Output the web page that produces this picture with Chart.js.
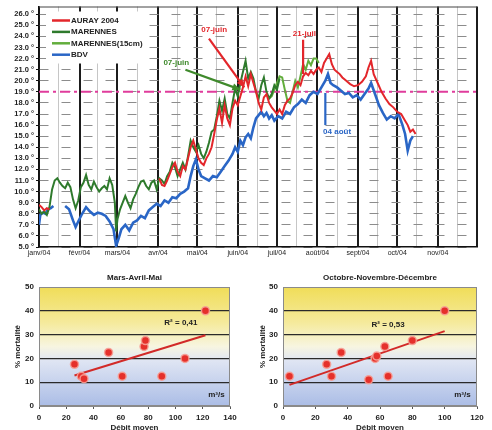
<!DOCTYPE html>
<html>
<head>
<meta charset="utf-8">
<script src="https://cdn.jsdelivr.net/npm/chart.js@4.4.0/dist/chart.umd.min.js"></script>
<style>
  body { margin: 0; background: #fff; width: 492px; height: 430px; overflow: hidden; position: relative; }
  canvas { position: absolute; }
  #tempChart { left: 0; top: 0; }
  #springChart { left: 0; top: 265px; }
  #autumnChart { left: 245px; top: 265px; }
</style>
</head>
<body>
<canvas id="tempChart" width="492" height="262"></canvas>
<canvas id="springChart" width="245" height="165"></canvas>
<canvas id="autumnChart" width="247" height="165"></canvas>
<script>
Chart.defaults.font.family = '"Liberation Sans", Arial, sans-serif';
Chart.defaults.color = '#222';
Chart.defaults.animation = false;

// day of year 2004 (0 = 1 janv)
const monthStarts = [0, 31, 60, 91, 121, 152, 182, 213, 244, 274, 305, 335];
const monthLabels = ['janv/04', 'févr/04', 'mars/04', 'avr/04', 'mai/04', 'juin/04', 'juil/04', 'août/04', 'sept/04', 'oct/04', 'nov/04', ''];
const midMonths = [15, 45, 75, 106, 136, 167, 197, 228, 259, 289, 320];
const tempTicks = [5, 6, 7, 8, 9, 10, 11, 12, 13, 14, 15, 16, 17, 18, 19, 20, 21, 22, 23, 24, 25, 26];
const threshold = 19;

const seriesNames = ['AURAY 2004', 'MARENNES', 'MARENNES(15cm)', 'BDV'];
const seriesColors = ['#e3262b', '#2e7a2c', '#62ad3c', '#2a66c6'];

const aurayDays = [0, 2, 4, 6, 8, 10,
  92, 94, 96, 98, 100, 102, 104, 106, 108, 110, 112, 114, 116, 118, 120, 122, 124, 126, 128, 130,
  132, 134, 136, 138, 140, 142, 144, 146, 148, 150, 152, 154, 156, 158, 160, 162, 164, 166, 168, 170,
  172, 174, 176, 178, 180, 182, 184, 186, 188, 190, 192, 194, 196, 198, 200, 202, 204, 206, 208, 210,
  212, 214, 216, 218, 220, 222, 224, 226, 228, 230, 232, 235, 238, 241, 244, 247, 250, 252, 254, 256,
  259, 262, 265, 268, 271, 274, 277, 280, 282, 284, 286, 288];
const aurayTemp = [8.8, 8.6, 8.3, 8.5, 8.4, null,
  11.2, 10.6, 10.5, 11.0, 11.6, 12.2, 12.6, 11.8, 11.4, 12.3, 12.0, 13.0, 14.0, 14.6, 13.8, 13.0, 12.6, 12.4, 13.0, 13.4,
  14.0, 15.2, 16.5, 17.5, 16.2, 17.8, 16.6, 16.0, 17.5, 18.2, 17.8, 18.6, 19.4, 20.4, 19.5, 20.6, 19.8, 19.0, 18.0, 17.4,
  18.5, 18.8, 18.0, 17.6, 17.3, 17.0, 17.4, 17.0, 17.8, 18.2, 18.4, 18.9, 19.6, 19.9, 19.6, 20.4, 20.7, 20.5, 20.9, 20.6,
  21.0, 21.2, 20.8, 21.6, 22.0, 22.4, 21.5, 21.0, 20.8, 20.6, 20.3, 20.0, 19.7, 19.5, 19.6, 19.9, 20.4, 21.2, 21.8, 20.6,
  19.8, 19.0, 18.4, 17.9, 17.6, 17.2, 17.0, 16.4, 16.0, 15.4, 15.6, 15.2];

const marennesDays = [0, 2, 4, 6, 8, 10, 12, 14, 16, 18, 20, 22, 24, 26, 28, 30, 32, 34, 36, 38,
  40, 42, 44, 46, 48, 50, 52, 54, 56, 58, 59, 60, 62, 64, 66, 68, 70, 72, 74, 76, 78,
  80, 82, 84, 86, 88, 90, 92, 94, 96, 98, 100, 102, 104, 106, 108, 110, 112, 114, 116, 118,
  120, 122, 124, 126, 128, 130, 132, 134, 136, 138, 140, 142, 144, 146, 148, 150, 152, 154, 156, 158,
  160, 162, 164, 166, 168, 170, 172, 174, 176, 178, 180, 182, 184];
const marennesTemp = [8.4, 8.0, 8.2, 7.9, 8.6, 10.2, 11.0, 11.2, 10.8, 10.5, 10.3, 10.8, 10.4, 9.3, 8.5, 9.2, 10.4, 10.8, 11.5, 10.6,
  10.2, 10.9, 10.4, 10.0, 10.3, 10.5, 10.2, 11.2, 10.6, 9.0, 6.4, 7.5, 8.4, 9.0, 9.6, 9.0, 8.5, 9.3, 9.8, 10.4, 10.9,
  11.0, 10.5, 10.2, 10.8, 11.0, 10.2, 11.2, 11.0, 10.7, 11.4, 11.8, 12.6, 12.2, 11.4, 12.0, 12.6, 12.0, 13.2, 14.6, 14.0,
  13.6, 14.2, 13.4, 13.0, 13.6, 14.4, 15.4, 15.6, 16.8, 18.2, 17.3, 18.4, 17.0, 16.6, 18.0, 19.3, 18.6, 19.8, 20.8, 21.8,
  20.2, 20.8, 20.2, 19.0, 18.4, 19.6, 20.3, 19.0, 18.4, 18.8, 19.6, 19.2, 20.2];

const marennes15Days = [176, 178, 180, 182, 184, 186, 188, 190, 192, 194, 196, 198, 200, 202, 204, 206, 208, 210, 212, 214];
const marennes15Temp = [18.4, 18.6, 19.2, 19.8, 20.4, 20.3, 19.2, 18.2, 18.0, 19.0, 20.0, 19.4, 20.4, 21.5, 21.0, 21.8, 21.4, 22.0, 22.0, 21.6];

const bdvDays = [0, 1, 3, 5, 7, 9, 11, 15,
  20, 23, 26, 28, 30, 33, 36, 39, 42, 45, 48, 51, 54, 57,
  59, 61, 63, 66, 69, 72, 75, 78, 81, 84, 87, 90, 93, 96, 99, 102, 105, 108, 111, 114,
  116, 118, 120, 122, 124, 127, 130, 133, 136, 139, 142, 145, 148,
  150, 152, 154, 156, 158, 160, 162, 164, 166, 168, 170, 172, 174, 176, 178, 180,
  183, 186, 189, 192, 195, 198, 201, 204, 207, 210, 213, 216, 219,
  221, 223, 225, 228, 231, 234, 237, 240, 243, 246, 249, 252, 254, 257, 260, 263, 266, 269, 272, 275, 278, 280, 282, 284, 286];
const bdvTemp = [7.0, 7.9, 8.1, 8.0, 8.4, 8.5, 8.7, null,
  8.7, 8.4, 7.4, 6.8, 7.3, 8.0, 8.6, 8.2, 7.9, 8.1, 8.0, 7.8, 7.3, 6.6,
  5.1, 5.8, 6.6, 7.0, 6.5, 7.2, 7.4, 7.8, 7.6, 8.3, 8.6, 8.9, 8.7, 9.2, 9.0, 9.5, 9.4, 9.8, 10.0, 10.3,
  11.4, 12.3, 12.9, 12.0, 11.4, 11.2, 11.0, 11.4, 11.3, 11.8, 12.3, 12.8, 13.4,
  14.0, 13.6, 14.6, 14.2, 14.9, 15.2, 14.8, 15.8, 16.6, 16.9, 17.2, 16.8, 17.1, 16.6, 16.9, 16.4,
  16.8, 16.6, 17.2, 17.0, 17.6, 17.9, 18.3, 18.0, 18.7, 19.0, 18.8, 19.4, 20.0,
  20.6, 19.8, 19.6, 19.4, 19.1, 18.8, 18.9, 18.5, 18.7, 18.3, 18.8, 19.3, 19.8, 18.8, 17.8, 17.1, 16.5, 16.8, 16.6, 17.0, 16.0, 15.2, 13.7, 14.6, 15.0];

// mortality vs mean flow
const springFlow = [26, 31, 33, 51, 61, 77, 78, 90, 107, 122];
const springMort = [17.5, 12.5, 11.5, 22.5, 12.5, 25, 27.5, 12.5, 20, 40];
const autumnFlow = [4, 27, 30, 36, 53, 57, 58, 63, 65, 80, 100];
const autumnMort = [12.5, 17.5, 12.5, 22.5, 11, 20, 21, 25, 12.5, 27.5, 40];

const FONT = '"Liberation Sans", Arial, sans-serif';

function pairUp(xs, ys) {
  return xs.map((x, i) => ({ x: x, y: ys[i] }));
}

// text + arrows, in (day, temp) units
const notes = [
  { text: '07-juin', color: '#e3262b', at: [134, 24.6], from: [130, 23.8], to: [157, 19.4], arrow: true },
  { text: '07-juin', color: '#3f8a2c', at: [105, 21.6], from: [112, 21.0], to: [154, 19.2], arrow: true },
  { text: '21-juil', color: '#e3262b', at: [203, 24.2], from: [202, 23.7], to: [202, 20.6], arrow: false },
  { text: '04 août', color: '#2a66c6', at: [228, 15.4], from: [219, 18.9], to: [219, 16.0], arrow: false }
];

const tempOverlay = {
  id: 'tempOverlay',
  beforeDatasetsDraw(chart) {
    const { ctx, chartArea: a, scales } = chart;
    ctx.save();
    // top frame
    ctx.strokeStyle = '#444';
    ctx.lineWidth = 1;
    ctx.beginPath();
    ctx.moveTo(a.left, a.top + 0.5);
    ctx.lineTo(a.right, a.top + 0.5);
    ctx.stroke();
    // 19 ° threshold
    const y = scales.y.getPixelForValue(threshold);
    ctx.strokeStyle = '#e03c9c';
    ctx.lineWidth = 2;
    ctx.setLineDash([10, 4, 3, 4]);
    ctx.beginPath();
    ctx.moveTo(a.left, y);
    ctx.lineTo(a.right, y);
    ctx.stroke();
    ctx.restore();
  },
  afterDatasetsDraw(chart) {
    const { ctx, chartArea: a, scales } = chart;
    ctx.save();
    // legend box
    const lx = a.left + 7, ly = a.top + 5;
    ctx.fillStyle = '#fff';
    ctx.fillRect(lx, ly, 101, 52);
    ctx.font = 'bold 8px ' + FONT;
    ctx.textBaseline = 'middle';
    seriesNames.forEach((name, i) => {
      const yy = ly + 9 + i * 11.4;
      ctx.strokeStyle = seriesColors[i];
      ctx.lineWidth = 2.5;
      ctx.beginPath();
      ctx.moveTo(lx + 6, yy);
      ctx.lineTo(lx + 24, yy);
      ctx.stroke();
      ctx.fillStyle = '#222';
      ctx.fillText(name, lx + 25, yy);
    });
    // annotations
    const px = v => scales.x.getPixelForValue(v);
    const py = v => scales.y.getPixelForValue(v);
    notes.forEach(n => {
      const x1 = px(n.from[0]), y1 = py(n.from[1]);
      const x2 = px(n.to[0]), y2 = py(n.to[1]);
      ctx.strokeStyle = n.color;
      ctx.fillStyle = n.color;
      ctx.lineWidth = 2.2;
      ctx.beginPath();
      ctx.moveTo(x1, y1);
      ctx.lineTo(x2, y2);
      ctx.stroke();
      if (n.arrow) {
        const ang = Math.atan2(y2 - y1, x2 - x1);
        ctx.beginPath();
        ctx.moveTo(x2, y2);
        ctx.lineTo(x2 - 8 * Math.cos(ang) + 3.5 * Math.sin(ang), y2 - 8 * Math.sin(ang) - 3.5 * Math.cos(ang));
        ctx.lineTo(x2 - 8 * Math.cos(ang) - 3.5 * Math.sin(ang), y2 - 8 * Math.sin(ang) + 3.5 * Math.cos(ang));
        ctx.closePath();
        ctx.fill();
      }
      ctx.font = 'bold 8px ' + FONT;
      ctx.textAlign = 'center';
      ctx.fillText(n.text, px(n.at[0]), py(n.at[1]));
    });
    ctx.restore();
  }
};

const gridDays = monthStarts.concat(midMonths).sort((a, b) => a - b);

new Chart(document.getElementById('tempChart'), {
  type: 'line',
  data: {
    datasets: [
      { label: seriesNames[0], data: pairUp(aurayDays, aurayTemp) },
      { label: seriesNames[1], data: pairUp(marennesDays, marennesTemp) },
      { label: seriesNames[2], data: pairUp(marennes15Days, marennes15Temp) },
      { label: seriesNames[3], data: pairUp(bdvDays, bdvTemp), borderWidth: 2.6 }
    ].map((ds, i) => Object.assign({
      borderColor: seriesColors[i],
      borderWidth: 2,
      pointRadius: 0,
      tension: 0,
      spanGaps: false
    }, ds))
  },
  options: {
    responsive: false,
    layout: { padding: { top: 5, right: 15, left: 0, bottom: 0 } },
    plugins: { legend: { display: false }, tooltip: { enabled: false } },
    scales: {
      x: {
        type: 'linear',
        min: 0,
        max: 335,
        afterBuildTicks: s => { s.ticks = gridDays.map(v => ({ value: v })); },
        afterFit: s => { s.height = 15; },
        ticks: {
          autoSkip: false,
          maxRotation: 0,
          padding: 2,
          font: { size: 7 },
          callback: v => {
            const i = monthStarts.indexOf(v);
            return i >= 0 ? monthLabels[i] : '';
          }
        },
        grid: {
          drawTicks: false,
          color: c => (c.tick && monthStarts.includes(c.tick.value)) ? '#1c1c1c' : '#c6c6c6',
          lineWidth: c => (c.tick && monthStarts.includes(c.tick.value)) ? 2 : 1
        },
        border: { color: '#111', width: 1.5 }
      },
      y: {
        min: 5,
        max: 26.7,
        afterBuildTicks: s => { s.ticks = tempTicks.map(v => ({ value: v })); },
        afterFit: s => { s.width = 39; },
        ticks: {
          autoSkip: false,
          padding: 2,
          font: { size: 7.5, weight: 'bold' },
          callback: v => v.toFixed(1) + ' °'
        },
        grid: { color: '#8c8c8c', lineWidth: 1, tickLength: 3, tickColor: '#111' },
        border: { color: '#111', width: 1.5, dash: [9, 13] }
      }
    }
  },
  plugins: [tempOverlay]
});

function fitLine(xs, ys) {
  const n = xs.length;
  const mx = xs.reduce((s, v) => s + v, 0) / n;
  const my = ys.reduce((s, v) => s + v, 0) / n;
  let sxy = 0, sxx = 0, syy = 0;
  xs.forEach((x, i) => {
    sxy += (x - mx) * (ys[i] - my);
    sxx += (x - mx) * (x - mx);
    syy += (ys[i] - my) * (ys[i] - my);
  });
  const slope = sxy / sxx;
  return { slope: slope, intercept: my - slope * mx, r2: sxy * sxy / (sxx * syy) };
}

const mortalityDecor = {
  id: 'mortalityDecor',
  beforeDraw(chart) {
    const { ctx, chartArea: a } = chart;
    const g = ctx.createLinearGradient(0, a.top, 0, a.bottom);
    g.addColorStop(0, '#f0dd58');
    g.addColorStop(0.3, '#f5ea9c');
    g.addColorStop(0.5, '#f7f5e0');
    g.addColorStop(0.62, '#dfe5f3');
    g.addColorStop(1, '#abbde6');
    ctx.save();
    ctx.fillStyle = g;
    ctx.fillRect(a.left, a.top, a.width, a.height);
    ctx.restore();
  },
  afterDraw(chart, args, opts) {
    const { ctx, chartArea: a, scales } = chart;
    ctx.save();
    ctx.strokeStyle = '#8a8a8a';
    ctx.lineWidth = 1;
    ctx.strokeRect(a.left + 0.5, a.top + 0.5, a.width - 1, a.height - 1);
    ctx.fillStyle = '#222';
    ctx.font = 'bold 8px ' + FONT;
    ctx.textAlign = 'center';
    ctx.textBaseline = 'middle';
    ctx.fillText(opts.title, (a.left + a.right) / 2, 13);
    ctx.fillText(opts.r2Text, scales.x.getPixelForValue(opts.r2At[0]), scales.y.getPixelForValue(opts.r2At[1]));
    ctx.fillText('m³/s', scales.x.getPixelForValue(opts.unitAt[0]), scales.y.getPixelForValue(opts.unitAt[1]));
    ctx.restore();
  }
};

function mortalityChart(id, title, flows, morts, xMax, yWidth, rightPad, r2At, unitAt) {
  const fit = fitLine(flows, morts);
  const lo = Math.min(...flows), hi = Math.max(...flows);
  return new Chart(document.getElementById(id), {
    type: 'scatter',
    data: {
      datasets: [
        {
          data: pairUp(flows, morts),
          backgroundColor: '#e5302b',
          borderColor: 'rgba(246,160,150,0.9)',
          borderWidth: 1.5,
          pointRadius: 4,
          order: 0
        },
        {
          type: 'line',
          data: [lo, hi].map(x => ({ x: x, y: fit.intercept + fit.slope * x })),
          borderColor: '#d22a28',
          borderWidth: 2,
          pointRadius: 0,
          order: 1
        }
      ]
    },
    options: {
      responsive: false,
      layout: { padding: { top: 22, right: rightPad, left: 0, bottom: 0 } },
      plugins: {
        legend: { display: false },
        tooltip: { enabled: false },
        mortalityDecor: {
          title: title,
          r2Text: 'R² = ' + fit.r2.toFixed(2).replace('.', ','),
          r2At: r2At,
          unitAt: unitAt
        }
      },
      scales: {
        x: {
          type: 'linear',
          min: 0,
          max: xMax,
          afterFit: s => { s.height = 24; },
          ticks: { stepSize: 20, padding: 4, font: { size: 8, weight: 'bold' } },
          grid: { drawOnChartArea: false, tickLength: 3, color: '#555' },
          border: { color: '#8a8a8a' },
          title: { display: true, text: 'Débit moyen', font: { size: 8, weight: 'bold' }, padding: { top: 0, bottom: -3 } }
        },
        y: {
          min: 0,
          max: 50,
          afterFit: s => { s.width = yWidth; },
          ticks: { stepSize: 10, padding: 5, font: { size: 8, weight: 'bold' } },
          grid: {
            drawTicks: false,
            color: c => (c.tick && c.tick.value > 0 && c.tick.value < 50) ? '#2a2a2a' : 'rgba(0,0,0,0)',
            lineWidth: 1.2
          },
          border: { color: '#8a8a8a' },
          title: { display: true, text: '% mortalité', font: { size: 8, weight: 'bold' }, padding: { top: 13, bottom: 0 } }
        }
      }
    },
    plugins: [mortalityDecor]
  });
}

mortalityChart('springChart', 'Mars-Avril-Mai', springFlow, springMort, 140, 39, 15, [104, 35], [130, 4.6]);
mortalityChart('autumnChart', 'Octobre-Novembre-Décembre', autumnFlow, autumnMort, 120, 38, 15, [65, 34.3], [111, 4.6]);
</script>
</body>
</html>
